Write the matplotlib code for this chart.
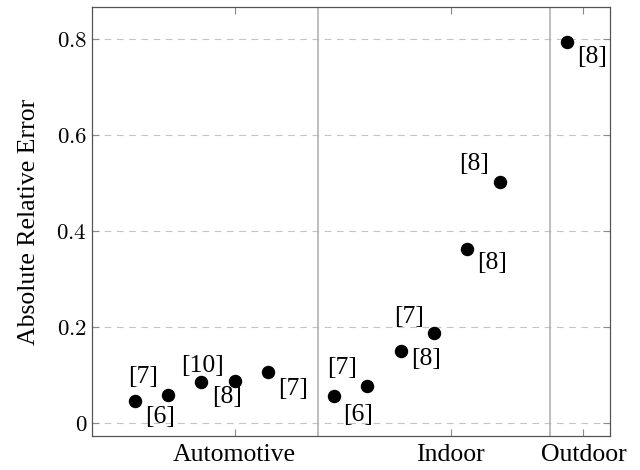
import matplotlib.pyplot as plt
import numpy as np

plt.rcParams['font.family'] = ['Liberation Serif', 'DejaVu Serif']
plt.rcParams['mathtext.fontset'] = 'cm'

# data per group: error values and cited reference
groups = ['Automotive', 'Indoor', 'Outdoor']
automotive_err = [0.046, 0.058, 0.085, 0.087, 0.106]
automotive_ref = ['[7]', '[6]', '[10]', '[8]', '[7]']
indoor_err = [0.056, 0.077, 0.150, 0.186, 0.363, 0.501]
indoor_ref = ['[7]', '[6]', '[8]', '[7]', '[8]', '[8]']
outdoor_err = [0.795]
outdoor_ref = ['[8]']

# label offsets (pixels) for each point, in plotting order
label_offsets = [(8, 24), (-8, -22), (1, 16), (-7, -16), (25, -17),
                 (8, 28), (-9, -29), (25, -8), (-25, 16), (25, -14), (-26, 18),
                 (25, -15)]

errs = automotive_err + indoor_err + outdoor_err
refs = automotive_ref + indoor_ref + outdoor_ref
# index positions, one empty slot between groups
xs = list(range(0, 5)) + list(range(6, 12)) + [13]

fig = plt.figure(figsize=(6.4, 4.7), dpi=100)
ax = fig.add_axes([92 / 640, 34 / 470, 518 / 640, 429 / 470])

ax.scatter(xs, errs, s=75, color='black', zorder=3)
for x, y, r, (dx, dy) in zip(xs, errs, refs, label_offsets):
    ax.annotate(r, (x, y), xytext=(dx, dy), textcoords='offset pixels',
                ha='center', va='center', fontsize=18.5)

for sep in [5.5, 12.5]:
    ax.axvline(sep, color='#b0b0b0', lw=1.2, zorder=1)

ax.set_xlim(-1.29, 14.3)
ax.set_ylim(-0.028, 0.867)
ax.set_xticks([3, 9.5, 13.5])
ax.set_xticklabels(groups, fontsize=18.5)
yt = [0, 0.2, 0.4, 0.6, 0.8]
ax.set_yticks(yt)
ax.set_yticklabels(['$%g$' % v for v in yt], fontsize=16.5)
ax.set_ylabel('Absolute Relative Error', fontsize=18.5, labelpad=12)

ax.yaxis.grid(True, linestyle=(0, (6, 5)), color='#c4c4c4', lw=0.8)
ax.set_axisbelow(True)
ax.tick_params(direction='in', top=True, right=True, length=5,
               color='#888888', width=0.8)
ax.tick_params(axis='x', pad=6)
for sp in ax.spines.values():
    sp.set_color('#555555')
    sp.set_linewidth(0.9)

fig.savefig('out.png', dpi=100)
